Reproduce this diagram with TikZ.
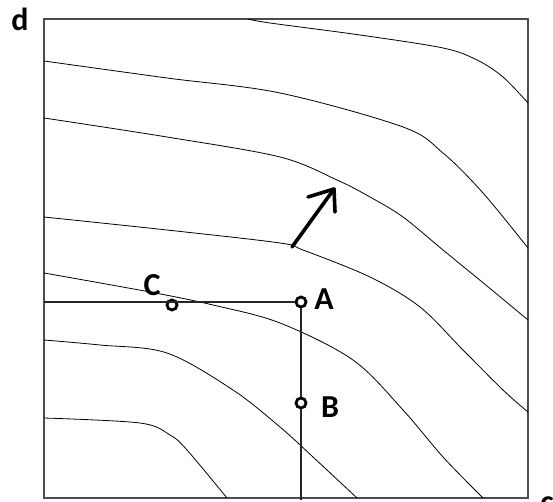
\documentclass[tikz,border=0pt]{standalone}
\usepackage{fontspec}
\newfontfamily\lblfont{Carlito}
\begin{document}
\begin{tikzpicture}[x=1pt,y=-1pt,
  frame/.style={draw=black!70,line width=1.4pt},
  isoq/.style={draw=black,line width=0.8pt},
  guide/.style={draw=black!85,line width=1.2pt},
  pt/.style={circle,draw=black,fill=white,line width=2.8pt,minimum size=10pt,inner sep=0pt},
  lbl/.style={font=\lblfont\bfseries\fontsize{32}{32}\selectfont,inner sep=0pt},
  bigarrow/.style={draw=black,line width=3.6pt,line cap=round,line join=round}]
\useasboundingbox (0,0) rectangle (553,502);
\fill[white] (0,0) rectangle (553,502);
% frame
\coordinate (TL) at (44,19);
\coordinate (BR) at (528,498);
\draw[frame] (TL) rectangle (BR);
% isoquant curves
\draw[isoq] plot[smooth,tension=0.55] coordinates {(248,19) (270,23) (360,35) (443,48) (477,60) (503,77) (528,103)};
\draw[isoq] plot[smooth,tension=0.55] coordinates {(44,61) (167,78) (280,93) (403,127) (443,153) (483,193) (528,248)};
\draw[isoq] plot[smooth,tension=0.55] coordinates {(44,118) (167,137) (280,157) (337,180) (370,197) (403,217) (443,250) (487,286) (528,320)};
\draw[isoq] plot[smooth,tension=0.55] coordinates {(44,217) (167,230) (280,243) (303,250) (370,277) (420,307) (463,350) (503,390) (528,412)};
\draw[isoq] plot[smooth,tension=0.55] coordinates {(44,273) (150,292) (213,305) (280,323) (353,360) (403,410) (443,457) (483,498)};
\draw[isoq] plot[smooth,tension=0.55] coordinates {(44,340) (100,345) (167,353) (233,390) (280,427) (313,457) (357,498)};
\draw[isoq] plot[smooth,tension=0.55] coordinates {(44,418) (140,423) (170,435) (187,450) (227,498)};
% guide lines
\coordinate (L) at (44,302);
\coordinate (Bot) at (301,500);
\node[pt] (A) at (301,302) {};
\node[pt] (B) at (301,403) {};
\node[pt] (C) at (172,305) {};
\draw[guide] (L) -- (A.west);
\draw[guide] (A.south) -- (B.north);
\draw[guide] (B.south) -- (Bot);
% arrow
\coordinate (ab) at (292,247);
\coordinate (at) at (334,189);
\coordinate (aL) at (308,197);
\coordinate (aR) at (335,212);
\draw[bigarrow] (ab) -- (at);
\draw[bigarrow] (aL) -- (at) -- (aR);
% labels
\node[lbl] (lA) at (324,299) {A};
\node[lbl] (lB) at (330,407) {B};
\node[lbl] (lC) at (152,285) {C};
\node[lbl] (ld) at (20,19) {d};
\node[lbl] (lc) at (547,505) {c};
\end{tikzpicture}
\end{document}
